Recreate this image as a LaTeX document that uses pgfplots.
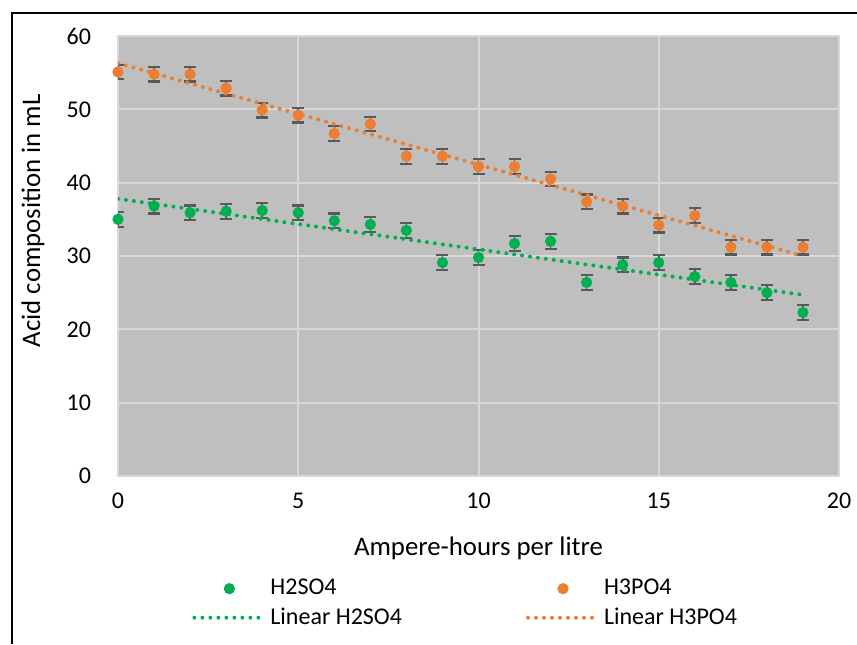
\documentclass[border=0pt]{standalone}
\usepackage{fontspec}
\setmainfont{Carlito}
\usepackage{pgfplots}
\pgfplotsset{compat=1.18}

\definecolor{acidgreen}{HTML}{00B050}
\definecolor{acidorange}{HTML}{ED7D31}
\definecolor{plotbg}{HTML}{BFBFBF}
\definecolor{gridc}{HTML}{D9D9D9}
\definecolor{errc}{HTML}{595959}

\pgfplotstableread{
x  y
0  35.0
1  36.8
2  35.9
3  36.1
4  36.2
5  35.9
6  34.8
7  34.3
8  33.5
9  29.1
10 29.8
11 31.7
12 32.0
13 26.4
14 28.8
15 29.1
16 27.2
17 26.4
18 25.0
19 22.3
}\hsdata

\pgfplotstableread{
x  y
0  55.1
1  54.8
2  54.8
3  52.9
4  49.9
5  49.2
6  46.7
7  48.0
8  43.6
9  43.6
10 42.2
11 42.2
12 40.5
13 37.4
14 36.8
15 34.2
16 35.5
17 31.2
18 31.2
19 31.2
}\hpdata

\begin{document}
\begin{tikzpicture}
\path[use as bounding box] (0pt,0pt) rectangle (428.5pt,322pt);
\draw[line width=1pt] (6pt,0pt) -- (6pt,315.5pt) -- (428.5pt,315.5pt);
\begin{axis}[
    at={(59pt,84pt)}, anchor=south west,
    scale only axis, width=360.5pt, height=220pt,
    xmin=0, xmax=20, ymin=0, ymax=60,
    xtick={0,5,10,15,20}, ytick={0,10,...,60},
    major tick length=0pt,
    axis background/.style={fill=plotbg},
    axis line style={gridc, line width=0.6pt},
    grid=major, major grid style={gridc, line width=1pt},
    /pgf/number format/assume math mode=true,
    tick label style={font=\fontsize{12}{14}\selectfont},
    xticklabel shift=5pt, yticklabel shift=10pt,
    xlabel={Ampere-hours per litre},
    ylabel={Acid composition in mL},
    label style={font=\fontsize{13.4}{16}\selectfont},
    xlabel style={at={(axis description cs:0.5,0)}, anchor=center, yshift=-36pt},
    ylabel style={at={(axis description cs:0,0.58)}, anchor=center, yshift=42.5pt},
    legend columns=2,
    legend cell align=left,
    legend style={at={(axis description cs:0,0)}, anchor=north west,
        xshift=37pt, yshift=-49.5pt, draw=none, fill=none, inner sep=0pt,
        font=\fontsize{12}{14}\selectfont,
        /tikz/every even column/.append style={column sep=60pt},
        row sep=1pt},
    legend image code/.code={\draw[mark repeat=2,mark phase=2,#1]
        plot coordinates {(0pt,0pt) (17.5pt,0pt) (35pt,0pt)};},
    trend/.style={line width=2pt, line cap=round, dash pattern=on 0pt off 4pt},
    acid/.style={only marks, mark=*, mark size=2.6pt,
        error bars/.cd, y dir=both, y fixed=1,
        error bar style={errc, line width=0.8pt},
        error mark=-,
        error mark options={errc, rotate=90, mark size=3pt, line width=1.1pt}},
]
\addplot[color=acidgreen, acid] table[x=x, y=y] {\hsdata};
\addlegendentry{H2SO4}
\addplot[color=acidorange, acid] table[x=x, y=y] {\hpdata};
\addlegendentry{H3PO4}
\addplot[trend, acidgreen, mark=none] coordinates {(0,37.8) (19,24.7)};
\addlegendentry{Linear H2SO4}
\addplot[trend, acidorange, mark=none] coordinates {(0,56.3) (19,30.0)};
\addlegendentry{Linear H3PO4}
\end{axis}
\end{tikzpicture}
\end{document}
